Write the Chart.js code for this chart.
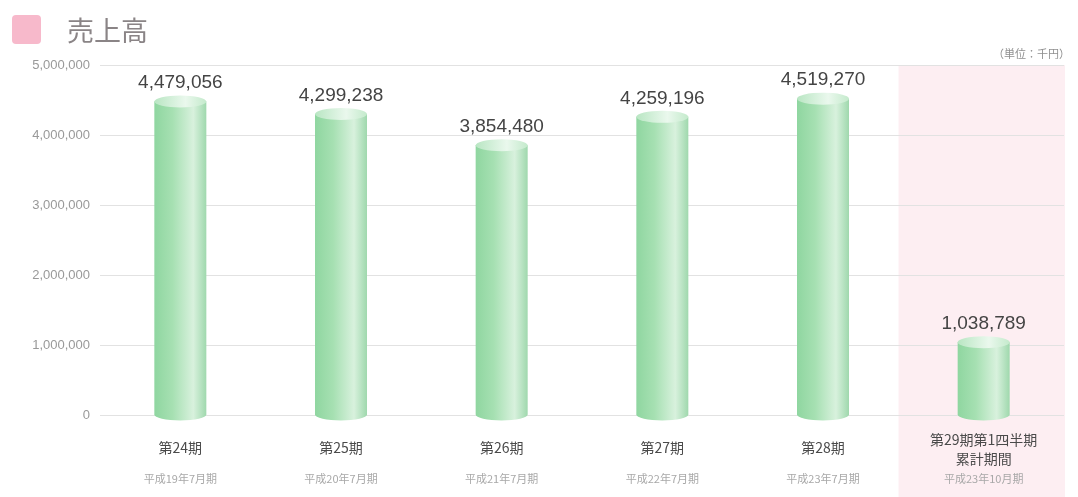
<!DOCTYPE html>
<html>
<head>
<meta charset="utf-8">
<script src="https://cdn.jsdelivr.net/npm/chart.js@4.4.0/dist/chart.umd.min.js"></script>
<style>
  html, body { margin: 0; padding: 0; background: #fff; }
  #wrap { position: relative; width: 1078px; height: 497px; }
  #chart { position: absolute; left: 0; top: 0; }
  .title { position: absolute; left: 12px; top: 10px; display: flex; align-items: center; }
  .title .box { width: 29px; height: 29px; background: #f7b9cb; border-radius: 4px; }
  .title .txt { margin-left: 26px; font-family: "Noto Sans CJK JP", sans-serif; font-size: 27px; color: #8a8486; }
  .unit { position: absolute; right: 8px; top: 45px; font-family: "Noto Sans CJK JP", sans-serif; font-size: 11px; color: #8f8f8f; }
</style>
</head>
<body>
<div id="wrap">
  <canvas id="chart" width="1078" height="497"></canvas>
  <div class="title"><div class="box"></div><div class="txt">売上高</div></div>
  <div class="unit">（単位：千円）</div>
</div>
<script>
// ----- DATA -----
const periods = ['第24期', '第25期', '第26期', '第27期', '第28期', ['第29期第1四半期', '累計期間']];
const subLabels = ['平成19年7月期', '平成20年7月期', '平成21年7月期', '平成22年7月期', '平成23年7月期', '平成23年10月期'];
const sales = [4479056, 4299238, 3854480, 4259196, 4519270, 1038789];
const yTicks = [0, 1000000, 2000000, 3000000, 4000000, 5000000];

const fmt = v => v.toLocaleString('en-US');

// pink band behind the last (quarter) period
const bandPlugin = {
  id: 'band',
  beforeDraw(chart) {
    const x = chart.scales.x;
    const area = chart.chartArea;
    const ctx = chart.ctx;
    const step = x.getPixelForValue(1) - x.getPixelForValue(0);
    const left = x.getPixelForValue(periods.length - 1) - step * 0.53;
    ctx.save();
    ctx.fillStyle = '#fdeef2';
    ctx.fillRect(left, area.top, area.right + 1 - left, chart.height - area.top);
    ctx.restore();
  }
};

// cylinders + value labels
const cylinderPlugin = {
  id: 'cylinder',
  afterDatasetsDraw(chart) {
    const ctx = chart.ctx;
    const meta = chart.getDatasetMeta(0);
    meta.data.forEach((bar, i) => {
      const w = bar.width, left = bar.x - w / 2, right = bar.x + w / 2;
      const top = bar.y, base = bar.base;
      const ry = 6;
      const g = ctx.createLinearGradient(left, 0, right, 0);
      g.addColorStop(0, '#8fd6a0');
      g.addColorStop(0.35, '#a6e0b2');
      g.addColorStop(0.75, '#d8f1dd');
      g.addColorStop(1, '#9fd8ad');
      ctx.save();
      ctx.fillStyle = g;
      ctx.beginPath();
      ctx.moveTo(left, top);
      ctx.lineTo(left, base);
      ctx.ellipse(bar.x, base, w / 2, ry, 0, Math.PI, 0, true);
      ctx.lineTo(right, top);
      ctx.closePath();
      ctx.fill();
      // top cap
      const tg = ctx.createLinearGradient(left, 0, right, 0);
      tg.addColorStop(0, '#b9e6c3');
      tg.addColorStop(0.6, '#eaf8ed');
      tg.addColorStop(1, '#c4eacc');
      ctx.fillStyle = tg;
      ctx.beginPath();
      ctx.ellipse(bar.x, top, w / 2, ry, 0, 0, Math.PI * 2);
      ctx.fill();
      // value label
      ctx.fillStyle = '#444';
      ctx.font = '19px "Liberation Sans", Arial, sans-serif';
      ctx.textAlign = 'center';
      ctx.textBaseline = 'bottom';
      ctx.fillText(fmt(sales[i]), bar.x, top - 9);
      ctx.restore();
    });
  }
};

// two-tier category labels under the axis
const xLabelPlugin = {
  id: 'xlabels',
  afterDraw(chart) {
    const ctx = chart.ctx;
    const x = chart.scales.x;
    ctx.save();
    ctx.textAlign = 'center';
    ctx.textBaseline = 'middle';
    periods.forEach((p, i) => {
      const cx = x.getPixelForValue(i);
      const lines = Array.isArray(p) ? p : [p];
      const startY = lines.length > 1 ? 440 : 448;
      ctx.fillStyle = '#4a4a4a';
      ctx.font = '14px "Noto Sans CJK JP", sans-serif';
      lines.forEach((ln, k) => ctx.fillText(ln, cx, startY + k * 19));
      ctx.fillStyle = '#a8a8a8';
      ctx.font = '11px "Noto Sans CJK JP", sans-serif';
      ctx.fillText(subLabels[i], cx, 479);
    });
    ctx.restore();
  }
};

new Chart(document.getElementById('chart').getContext('2d'), {
  type: 'bar',
  data: {
    labels: periods.map(p => Array.isArray(p) ? p.join('') : p),
    datasets: [{
      data: sales,
      backgroundColor: 'rgba(0,0,0,0)',
      barThickness: 52
    }]
  },
  options: {
    responsive: false,
    animation: false,
    layout: { padding: { top: 65, right: 14, bottom: 74, left: 0 } },
    plugins: { legend: { display: false }, tooltip: { enabled: false } },
    scales: {
      x: {
        ticks: { display: false },
        grid: { display: false },
        border: { display: false }
      },
      y: {
        min: 0,
        max: 5000000,
        afterBuildTicks: s => { s.ticks = yTicks.map(v => ({ value: v })); },
        afterFit: s => { s.width = 100; },
        ticks: {
          padding: 10,
          color: '#999',
          font: { family: '"Liberation Sans", Arial, sans-serif', size: 13 },
          callback: v => fmt(v)
        },
        grid: { color: '#e2e2e2', drawTicks: false },
        border: { display: false }
      }
    }
  },
  plugins: [bandPlugin, cylinderPlugin, xLabelPlugin]
});
</script>
</body>
</html>
